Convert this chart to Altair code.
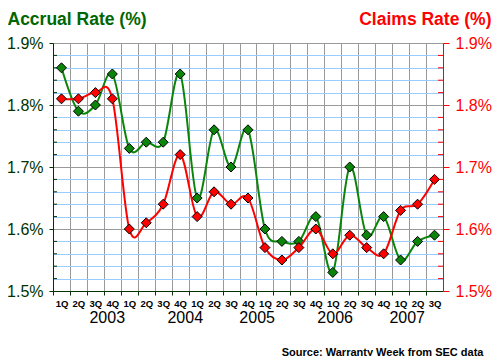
import altair as alt
import pandas as pd

quarters = ["1Q", "2Q", "3Q", "4Q"] * 5 + ["1Q", "2Q", "3Q"]
accrual = [1.86, 1.79, 1.80, 1.85, 1.73, 1.74, 1.74, 1.85, 1.65, 1.76, 1.70, 1.76,
           1.60, 1.58, 1.58, 1.62, 1.53, 1.70, 1.59, 1.62, 1.55, 1.58, 1.59]
claims = [1.81, 1.81, 1.82, 1.81, 1.60, 1.61, 1.64, 1.72, 1.62, 1.66, 1.64, 1.65,
          1.57, 1.55, 1.57, 1.60, 1.56, 1.59, 1.57, 1.56, 1.63, 1.64, 1.68]
years = ["2003", "2004", "2005", "2006", "2007"]
year_pos = [2.70, 7.30, 11.54, 16.14, 20.39]
y_ticks = [round(1.50 + 0.02 * k, 2) for k in range(21)]
minor_ticks = [v for v in y_ticks if abs(v * 10 - round(v * 10)) > 0.001]

FONT = "Liberation Sans"
GREEN = "#0a850a"
DKGREEN = "#003300"
RED = "#ff0000"

df = pd.DataFrame({"idx": list(range(len(quarters))), "q": quarters,
                   "accrual": accrual, "claims": claims})
ydf = pd.DataFrame({"pos": year_pos, "year": years})
mdf = pd.DataFrame({"v": minor_ticks})

W, H = 390, 248
half = W / len(quarters) / 2

q_js = "[" + ",".join("'%s'" % q for q in quarters) + "]"
xscale = alt.Scale(domain=[-0.5, len(quarters) - 0.5], nice=False, zero=False)
xaxis = alt.Axis(values=list(range(len(quarters))), tickOffset=-half, labelOffset=half,
                 labelExpr=q_js + "[datum.value]", grid=True, gridColor="#999999",
                 gridWidth=1, domainColor=DKGREEN, tickColor=DKGREEN, tickSize=4,
                 labelPadding=3, labelFont=FONT, labelFontSize=9.5, labelFontWeight="bold",
                 labelColor="black", title="Source: Warranty Week from SEC data",
                 titleFont=FONT, titleFontSize=11, titleFontWeight="bold", titleColor="black",
                 titleX=430, titleY=64, titleAlign="right", titleBaseline="alphabetic",
                 titleAnchor="end")

yscale = alt.Scale(domain=[1.5, 1.9], nice=False, zero=False)
major_test = "abs(datum.value*10 - round(datum.value*10)) < 0.001"
lbl = major_test + " ? format(datum.value, '.1f') + '%' : ''"

yaxis_left = alt.Axis(orient="left", values=y_ticks, labelExpr=lbl, grid=True,
                      gridColor={"condition": {"test": major_test, "value": "#999999"}, "value": "#99ccff"},
                      tickColor={"condition": {"test": major_test, "value": DKGREEN}, "value": "transparent"},
                      tickSize=4, labelPadding=6, domainColor=DKGREEN, labelColor=DKGREEN,
                      labelFont=FONT, labelFontSize=16, labelBaseline="middle",
                      title="Accrual Rate (%)", titleFont=FONT, titleFontSize=17.5,
                      titleFontWeight="bold", titleColor="#006600", titleAngle=0,
                      titleX=-46, titleY=-19, titleAlign="left", titleBaseline="alphabetic")
yaxis_right = alt.Axis(orient="right", values=y_ticks, labelExpr=lbl, grid=False,
                       tickColor={"condition": {"test": major_test, "value": RED}, "value": "transparent"},
                       tickSize=6, labelPadding=6, domainColor=RED, labelColor=RED,
                       labelFont=FONT, labelFontSize=16, labelBaseline="middle",
                       title="Claims Rate (%)", titleFont=FONT, titleFontSize=17.5,
                       titleFontWeight="bold", titleColor=RED, titleAngle=0,
                       titleX=48, titleY=-19, titleAlign="right", titleBaseline="alphabetic")

base = alt.Chart(df)
X = alt.X("idx:Q", scale=xscale, axis=xaxis)

g_line = base.mark_line(color=GREEN, strokeWidth=2, interpolate="cardinal").encode(
    x=X, y=alt.Y("accrual:Q", scale=yscale, axis=yaxis_left))
g_pts = base.mark_point(shape="diamond", filled=True, size=100, fill=GREEN, stroke="black",
                        strokeWidth=1, opacity=1).encode(
    x=X, y=alt.Y("accrual:Q", scale=yscale, axis=yaxis_left))
minor_l = alt.Chart(mdf).mark_rule(color=DKGREEN).encode(
    x=alt.value(0), x2=alt.value(4), y=alt.Y("v:Q", scale=yscale, axis=yaxis_left))
minor_r = alt.Chart(mdf).mark_rule(color=RED).encode(
    x=alt.value(W - 5), x2=alt.value(W), y=alt.Y("v:Q", scale=yscale, axis=yaxis_left))
yr = alt.Chart(ydf).mark_text(font=FONT, fontSize=16, color="black", baseline="alphabetic").encode(
    x=alt.X("pos:Q", scale=xscale, axis=xaxis), y=alt.value(H + 31.7), text="year:N")

left = alt.layer(minor_l, minor_r, g_line, g_pts, yr)

r_line = base.mark_line(color=RED, strokeWidth=2, interpolate="cardinal").encode(
    x=X, y=alt.Y("claims:Q", scale=yscale, axis=yaxis_right))
r_pts = base.mark_point(shape="diamond", filled=True, size=100, fill=RED, stroke="black",
                        strokeWidth=1, opacity=1).encode(
    x=X, y=alt.Y("claims:Q", scale=yscale, axis=yaxis_right))
right = alt.layer(r_line, r_pts)

chart = alt.layer(left, right).resolve_scale(y="independent").properties(
    width=W, height=H,
    autosize=alt.AutoSizeParams(type="none"),
    padding={"left": 45, "top": 35, "right": 49, "bottom": 65},
    background="white",
).configure_view(stroke=None)

chart.save("out.html", embed_options={"renderer": "svg", "actions": False})
